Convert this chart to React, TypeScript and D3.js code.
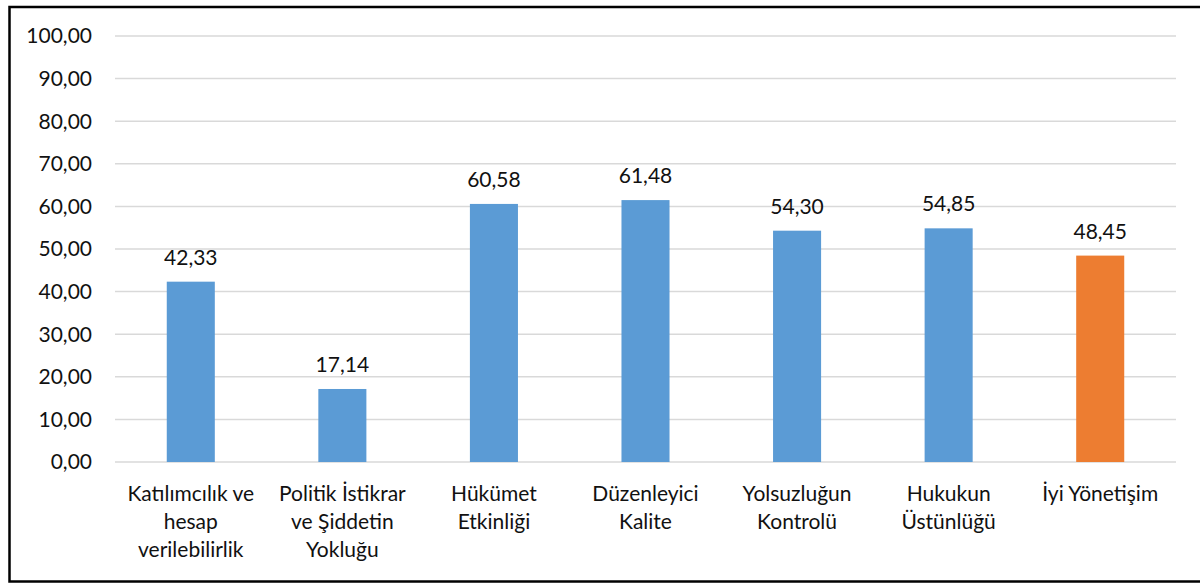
import { useRef, useEffect } from 'react';
import * as d3 from 'd3';

const categories = [
  ['Katılımcılık ve', 'hesap', 'verilebilirlik'],
  ['Politik İstikrar', 've Şiddetin', 'Yokluğu'],
  ['Hükümet', 'Etkinliği'],
  ['Düzenleyici', 'Kalite'],
  ['Yolsuzluğun', 'Kontrolü'],
  ['Hukukun', 'Üstünlüğü'],
  ['İyi Yönetişim'],
];
const values = [42.33, 17.14, 60.58, 61.48, 54.3, 54.85, 48.45];
const barColors = ['#5B9BD5', '#5B9BD5', '#5B9BD5', '#5B9BD5', '#5B9BD5', '#5B9BD5', '#ED7D31'];
const yTicks = [0, 10, 20, 30, 40, 50, 60, 70, 80, 90, 100];

const width = 1200;
const height = 583;
const fmt = (v: number) => v.toFixed(2).replace('.', ',');

export default function App() {
  const svgRef = useRef<SVGSVGElement>(null);

  useEffect(() => {
    const svg = d3.select(svgRef.current);
    svg.selectAll('*').remove();
    svg.attr('width', width).attr('height', height);

    const font = 'Lato, "Open Sans", sans-serif';
    const textColor = '#111';
    const fs = 21;

    const x = d3
      .scaleBand<number>()
      .domain(d3.range(values.length))
      .range([115, 1176])
      .paddingInner(0.683)
      .paddingOuter(0.3415);
    const y = d3.scaleLinear().domain([0, 100]).range([462, 36]);

    // frame
    svg
      .append('rect')
      .attr('x', 9.5)
      .attr('y', 7)
      .attr('width', 1220)
      .attr('height', 574.5)
      .attr('fill', 'white')
      .attr('stroke', '#000')
      .attr('stroke-width', 2.5);

    // grid
    svg
      .append('g')
      .selectAll('line')
      .data(yTicks)
      .join('line')
      .attr('x1', 115)
      .attr('x2', 1176)
      .attr('y1', (d) => y(d))
      .attr('y2', (d) => y(d))
      .attr('stroke', '#D9D9D9')
      .attr('stroke-width', 1.5);

    // y labels
    svg
      .append('g')
      .selectAll('text')
      .data(yTicks)
      .join('text')
      .attr('x', 92)
      .attr('y', (d) => y(d))
      .attr('dy', '0.35em')
      .attr('text-anchor', 'end')
      .attr('font-family', font)
      .attr('font-size', fs)
      .attr('fill', textColor)
      .text((d) => fmt(d));

    // bars
    svg
      .append('g')
      .selectAll('rect')
      .data(values)
      .join('rect')
      .attr('x', (_, i) => x(i)!)
      .attr('width', x.bandwidth())
      .attr('y', (d) => y(d))
      .attr('height', (d) => y(0) - y(d))
      .attr('fill', (_, i) => barColors[i]);

    // value labels
    svg
      .append('g')
      .selectAll('text')
      .data(values)
      .join('text')
      .attr('x', (_, i) => x(i)! + x.bandwidth() / 2)
      .attr('y', (d) => y(d) - 17)
      .attr('text-anchor', 'middle')
      .attr('font-family', font)
      .attr('font-size', fs)
      .attr('fill', textColor)
      .text((d) => fmt(d));

    // category labels
    const cat = svg
      .append('g')
      .selectAll('text')
      .data(categories)
      .join('text')
      .attr('text-anchor', 'middle')
      .attr('font-family', font)
      .attr('font-size', fs)
      .attr('fill', textColor);
    cat
      .selectAll('tspan')
      .data((d, i) => d.map((t) => ({ t, i })))
      .join('tspan')
      .attr('x', (d) => x(d.i)! + x.bandwidth() / 2)
      .attr('y', (_, j) => 501 + j * 28)
      .text((d) => d.t);
  }, []);

  return (
    <div style={{ position: 'absolute', left: 0, top: 0 }}>
      <svg ref={svgRef} />
    </div>
  );
}
